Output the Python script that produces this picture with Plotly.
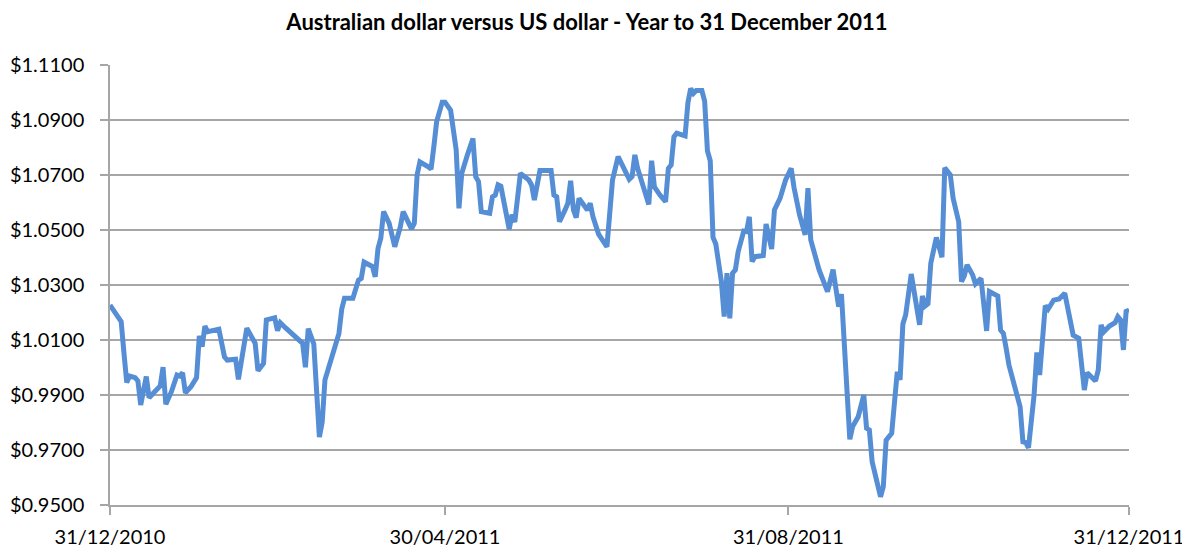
import pandas as pd
import plotly.graph_objects as go

# Days elapsed since 31/12/2010 for each observation
day_offsets = [
    0, 4, 5, 6, 7, 9, 10, 11, 13, 14, 16, 18, 19, 20, 22, 24, 25, 26, 27, 29,
    31, 32, 33, 34, 35, 39, 41, 42, 45, 46, 49, 52, 53, 55, 56, 59, 60, 61, 63, 65,
    68, 69, 70, 71, 73, 75, 76, 77, 82, 83, 84, 87, 89, 90, 91, 94, 95, 96, 97, 98,
    100, 102, 104, 105, 108, 109, 110, 111, 114, 115, 116, 117, 119, 120, 122, 124, 125, 126, 128, 130,
    131, 132, 133, 136, 137, 138, 139, 140, 143, 144, 145, 147, 150, 151, 152, 154, 158, 159, 160, 161,
    163, 164, 165, 166, 167, 168, 171, 172, 173, 175, 178, 180, 182, 184, 186, 187, 188, 189, 191, 193,
    194, 195, 197, 199, 200, 201, 202, 203, 206, 207, 208, 209, 210, 212, 213, 214, 215, 216, 217, 219,
    220, 221, 222, 223, 224, 225, 227, 228, 229, 230, 231, 234, 235, 237, 238, 240, 242, 244, 245, 247,
    249, 250, 251, 254, 257, 259, 261, 262, 265, 266, 268, 270, 271, 272, 273, 276, 277, 278, 280, 282,
    283, 284, 285, 287, 290, 291, 292, 293, 294, 296, 298, 299, 301, 302, 304, 305, 306, 307, 309, 310,
    312, 314, 315, 318, 319, 320, 321, 322, 326, 327, 328, 329, 331, 332, 333, 335, 336, 338, 340, 342,
    345, 347, 349, 350, 353, 354, 355, 356, 358, 360, 361, 362, 363, 364, 365,
]

# AUD/USD exchange rate (US$ per A$)
aud_usd = [
    1.0227, 1.0167, 1.0053, 0.9945, 0.9969, 0.9963, 0.9951, 0.9864, 0.9967, 0.9890,
    0.9912, 0.9933, 1.0001, 0.9866, 0.9912, 0.9973, 0.9969, 0.9981, 0.9908, 0.9930,
    0.9963, 1.0115, 1.0076, 1.0151, 1.0130, 1.0139, 1.0039, 1.0027, 1.0030, 0.9957,
    1.0143, 1.0088, 0.9988, 1.0015, 1.0173, 1.0181, 1.0134, 1.0163, 1.0143, 1.0124,
    1.0094, 1.0088, 1.0001, 1.0141, 1.0085, 0.9747, 0.9801, 0.9955, 1.0124, 1.0212,
    1.0252, 1.0252, 1.0318, 1.0324, 1.0383, 1.0367, 1.0330, 1.0433, 1.0470, 1.0567,
    1.0524, 1.0439, 1.0512, 1.0567, 1.0504, 1.0524, 1.0700, 1.0748, 1.0730, 1.0721,
    1.0803, 1.0894, 1.0965, 1.0965, 1.0936, 1.0791, 1.0579, 1.0706, 1.0773, 1.0833,
    1.0694, 1.0676, 1.0567, 1.0561, 1.0621, 1.0627, 1.0664, 1.0659, 1.0503, 1.0556,
    1.0529, 1.0706, 1.0682, 1.0664, 1.0609, 1.0716, 1.0716, 1.0627, 1.0621, 1.0530,
    1.0573, 1.0597, 1.0679, 1.0573, 1.0545, 1.0615, 1.0573, 1.0597, 1.0548, 1.0485,
    1.0439, 1.0682, 1.0767, 1.0730, 1.0684, 1.0694, 1.0773, 1.0724, 1.0657, 1.0593,
    1.0752, 1.0657, 1.0627, 1.0603, 1.0724, 1.0736, 1.0839, 1.0852, 1.0842, 1.0962,
    1.1015, 1.0997, 1.1007, 1.1007, 1.0969, 1.0788, 1.0752, 1.0473, 1.0449, 1.0312,
    1.0185, 1.0343, 1.0179, 1.0343, 1.0355, 1.0421, 1.0496, 1.0494, 1.0548, 1.0385,
    1.0403, 1.0407, 1.0522, 1.0431, 1.0573, 1.0615, 1.0682, 1.0724, 1.0655, 1.0555,
    1.0482, 1.0652, 1.0464, 1.0355, 1.0276, 1.0356, 1.0221, 1.0267, 0.9739, 0.9785,
    0.9821, 0.9900, 0.9779, 0.9773, 0.9657, 0.9530, 0.9567, 0.9736, 0.9761, 0.9985,
    0.9955, 1.0158, 1.0191, 1.0340, 1.0155, 1.0260, 1.0224, 1.0232, 1.0379, 1.0473,
    1.0401, 1.0726, 1.0700, 1.0615, 1.0530, 1.0312, 1.0333, 1.0373, 1.0336, 1.0304,
    1.0324, 1.0133, 1.0276, 1.0260, 1.0136, 1.0124, 1.0070, 1.0009, 0.9857, 0.9730,
    0.9727, 0.9708, 0.9900, 1.0055, 0.9973, 1.0225, 1.0212, 1.0245, 1.0249, 1.0270,
    1.0118, 1.0106, 0.9918, 0.9981, 0.9951, 0.9991, 1.0155, 1.0130, 1.0151, 1.0163,
    1.0185, 1.0173, 1.0064, 1.0209, 1.0201,
]

start_date = "2010-12-31"
x_tick_dates = ["2010-12-31", "2011-04-30", "2011-08-31", "2011-12-31"]
x_tick_labels = ["31/12/2010", "30/04/2011", "31/08/2011", "31/12/2011"]
y_min, y_max, y_step = 0.95, 1.11, 0.02
title_text = "Australian dollar versus US dollar - Year to 31 December 2011"

dates = pd.Timestamp(start_date) + pd.to_timedelta(day_offsets, unit="D")

# the page body adds an 8px offset, so the figure is laid out 8px smaller
W, H = 1182, 539

fig = go.Figure()
fig.add_trace(go.Scatter(
    x=dates, y=aud_usd, mode="lines",
    line=dict(color="#558ED5", width=5),
    showlegend=False, hoverinfo="x+y",
))

fig.update_layout(
    width=W, height=H,
    margin=dict(l=102, r=61, t=57, b=42, autoexpand=False),
    paper_bgcolor="white", plot_bgcolor="white",
    font=dict(family="Lato, Carlito, sans-serif", color="black", size=20),
    title=dict(text="<b>" + title_text + "</b>", x=(587 - 8) / W, xanchor="center",
               y=1 - 14 / H, yanchor="middle",
               font=dict(size=22, family="Lato, sans-serif", color="black")),
    xaxis=dict(
        type="date", automargin=False,
        range=[x_tick_dates[0], x_tick_dates[-1]],
        tickmode="array", tickvals=x_tick_dates, ticktext=x_tick_labels,
        showgrid=False, zeroline=False,
        showline=True, linecolor="#A6A6A6", linewidth=1.5,
        ticks="outside", ticklen=8, tickcolor="#A6A6A6", tickwidth=1.5,
        ticklabelstandoff=5,
        tickfont=dict(size=20),
    ),
    yaxis=dict(
        automargin=False,
        range=[y_min, y_max], dtick=y_step, tick0=y_min,
        tickprefix="$", tickformat=".4f",
        showgrid=True, gridcolor="#A6A6A6", gridwidth=1.5,
        zeroline=False,
        showline=True, linecolor="#A6A6A6", linewidth=1.5,
        ticks="outside", ticklen=8, tickcolor="#A6A6A6", tickwidth=1.5,
        ticklabelstandoff=12,
        tickfont=dict(size=20),
    ),
)

fig.write_html("out.html")
